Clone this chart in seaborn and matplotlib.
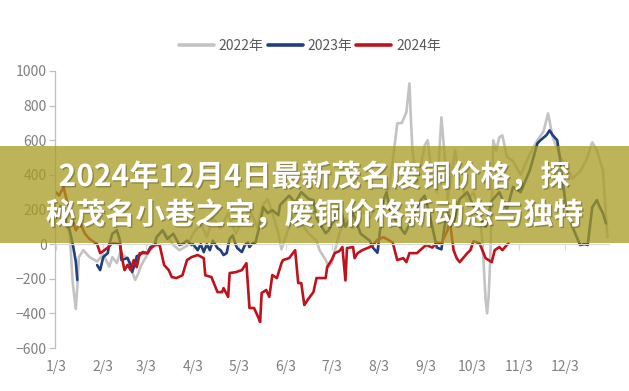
import numpy as np
import pandas as pd
import matplotlib
matplotlib.use("Agg")
import matplotlib.pyplot as plt
import matplotlib.patheffects as pe
from matplotlib.patches import Rectangle
from matplotlib.lines import Line2D
import seaborn as sns

# ---------------- data ----------------
series_names = ["2022年", "2023年", "2024年"]
series_colors = ["#C3C3C3", "#1F3F7F", "#C0121C"]

dates_2022 = ["01-03", "01-06", "01-08", "01-10", "01-12", "01-14", "01-16", "01-17", "01-18", "01-21",
              "01-25", "01-30", "02-03", "02-07", "02-09", "02-12", "02-14", "02-19", "02-22", "02-24",
              "02-26", "02-28", "03-04", "03-07", "03-10", "03-14", "03-19", "03-21", "03-25", "03-30",
              "04-03", "04-08", "04-12", "04-16", "04-21", "04-26", "05-01", "05-05", "05-10", "05-15",
              "05-19", "05-22", "05-25", "05-29", "05-31", "06-05", "06-09", "06-13", "06-18", "06-23",
              "06-25", "06-29", "07-01", "07-03", "07-05", "07-08", "07-12", "07-17", "07-22", "07-28",
              "08-02", "08-06", "08-10", "08-15", "08-18", "08-21", "08-23", "08-24", "08-25", "08-28",
              "09-02", "09-04", "09-07", "09-10", "09-13", "09-15", "09-17", "09-22", "09-25", "09-30",
              "10-04", "10-08", "10-10", "10-12", "10-13", "10-14", "10-15", "10-16", "10-17", "10-19",
              "10-21", "10-23", "10-26", "10-30", "11-04", "11-10", "11-15", "11-19", "11-22", "11-25",
              "11-30", "12-04", "12-08", "12-13", "12-17", "12-21", "12-24", "12-28", "12-31"]
values_2022 = [150, 200, 170, 100, 63, -225, -375, -248, -75, -35,
               -75, -100, -60, -130, -75, -110, -52, -80, -161, -207,
               -170, -121, -60, -20, 40, 80, 20, -5, -35, -10,
               60, 120, 40, 150, 90, 180, 60, 130, 200, 100,
               230, 260, 180, 60, -30, 100, 180, 120, 60, 20,
               -35, -90, -133, -110, -40, 60, 150, 90, 200, 150,
               220, 254, 330, 697, 700, 761, 928, 715, 540, 340,
               570, 600, 370, 300, 732, 525, 254, 542, 370, 250,
               300, 200, 0, -323, -400, -300, -100, 200, 600, 542,
               617, 628, 502, 480, 400, 520, 600, 650, 755, 620,
               502, 450, 380, 420, 484, 588, 542, 426, 40]

dates_2023 = ["01-03", "01-06", "01-08", "01-10", "01-12", "01-14", "01-16", "01-17", "01-24", "01-30",
              "02-01", "02-03", "02-06", "02-07", "02-09", "02-12", "02-14", "02-15", "02-19", "02-21",
              "02-22", "02-24", "02-25", "02-27", "03-01", "03-04", "03-06", "03-09", "03-10", "03-14",
              "03-17", "03-21", "03-25", "03-27", "03-30", "04-02", "04-03", "04-06", "04-08", "04-10",
              "04-12", "04-14", "04-16", "04-19", "04-21", "04-23", "04-25", "04-27", "04-29", "05-01",
              "05-02", "05-05", "05-07", "05-09", "05-10", "05-12", "05-14", "05-17", "05-19", "05-22",
              "05-25", "05-29", "05-30", "06-05", "06-09", "06-13", "06-18", "06-21", "06-23", "06-29",
              "07-01", "07-05", "07-08", "07-12", "07-17", "07-22", "07-28", "07-30", "08-02", "08-04",
              "08-06", "08-08", "08-10", "08-15", "08-20", "08-25", "08-30", "09-02", "09-05", "09-10",
              "09-13", "09-15", "09-17", "09-21", "09-25", "09-30", "10-04", "10-08", "10-12", "10-16",
              "10-21", "10-26", "10-30", "11-04", "11-10", "11-15", "11-17", "11-21", "11-23", "11-25",
              "11-28", "11-30", "12-04", "12-08", "12-13", "12-16", "12-18", "12-21", "12-24", "12-26",
              "12-28", "12-30"]
values_2023 = [150, 220, 180, 120, 80, 0, -100, -207, np.nan, -121,
               -150, -75, -52, 0, 60, 80, 20, -92, -80, -121,
               -161, -110, -70, -63, -46, -52, -17, -5, 40, 80,
               30, 60, -5, 0, 20, -5, 0, -35, 0, -46,
               0, -35, 20, -23, -35, -63, -52, 30, 50, -5,
               -23, -46, -5, 10, -17, 5, 10, 120, 213, 179,
               196, 167, 225, 280, 240, 300, 260, 254, 150, 63,
               80, 150, 220, 100, 180, 60, 20, -20, -50, 100,
               254, 300, 200, 120, 60, 150, 250, 280, 180, -20,
               -30, 100, 180, 120, 260, 300, 220, 150, 100, 250,
               300, 200, 330, 300, 426, 582, 600, 630, 657, 630,
               600, 484, 196, 100, -5, 0, -5, 213, 254, 213,
               179, 120]

dates_2024 = ["01-03", "01-05", "01-08", "01-10", "01-12", "01-14", "01-16", "01-19", "01-22", "01-25",
              "01-30", "02-01", "02-03", "02-06", "02-09", "02-14", "02-16", "02-17", "02-19", "02-21",
              "02-23", "02-25", "02-27", "03-04", "03-06", "03-09", "03-12", "03-15", "03-18", "03-20",
              "03-23", "03-27", "03-30", "04-02", "04-06", "04-10", "04-11", "04-15", "04-19", "04-22",
              "04-23", "04-26", "04-27", "05-01", "05-05", "05-08", "05-10", "05-13", "05-16", "05-17",
              "05-18", "05-21", "05-23", "05-25", "05-28", "05-31", "06-01", "06-05", "06-09", "06-11",
              "06-13", "06-15", "06-18", "06-21", "06-23", "06-29", "06-30", "07-03", "07-05", "07-08",
              "07-10", "07-12", "07-13", "07-17", "07-18", "07-20", "07-23", "07-28", "07-30", "08-02",
              "08-06", "08-10", "08-12", "08-15", "08-19", "08-21", "08-23", "08-28", "08-30", "09-03",
              "09-07", "09-10", "09-13", "09-17", "09-18", "09-19", "09-21", "09-23", "09-25", "09-30",
              "10-02", "10-04", "10-08", "10-12", "10-16", "10-18", "10-21", "10-23", "10-27"]
values_2024 = [300, 280, 330, 255, 200, 140, 80, 120, 60, 30,
               0, -52, -40, -20, 5, 0, -110, -150, -120, -150,
               -92, -133, -52, -52, -25, -5, -5, -121, -150, -190,
               -196, -180, -92, -75, -63, -81, -180, -190, -277, -277,
               -254, -305, -167, -162, -150, -110, -369, -369, -427, -450,
               -282, -265, -305, -179, -196, -110, -92, -81, -35, -225,
               -225, -352, -312, -277, -196, -196, -133, -90, -52, -40,
               -17, -210, -23, -17, -81, -52, -35, -17, -5, 25,
               40, 20, 10, -92, -81, -104, -52, -52, -35, -5,
               -20, 10, 5, 80, 138, 98, -35, -81, -104, -52,
               -35, 17, 5, -81, -104, -35, -17, -35, 5]

y_ticks = [-600, -400, -200, 0, 200, 400, 600, 800, 1000]
x_tick_labels = [f"{m}/3" for m in range(1, 13)]

title_lines = ["2024年12月4日最新茂名废铜价格，探",
               "秘茂名小巷之宝，废铜价格新动态与独特"]

# ---------------- build table ----------------
frames = []
for name, dts, vals in zip(series_names,
                           [dates_2022, dates_2023, dates_2024],
                           [values_2022, values_2023, values_2024]):
    d = pd.DataFrame({"date": dts, "value": np.array(vals, dtype=float)})
    d["day"] = pd.to_datetime("2023-" + d["date"]).dt.dayofyear - 1
    d["seg"] = d["value"].isna().cumsum()
    d["series"] = name
    frames.append(d.dropna())
df = pd.concat(frames, ignore_index=True)
tick_days = [pd.Timestamp(2023, m, 3).dayofyear - 1 for m in range(1, 13)]

# ---------------- plot ----------------
sns.set_theme(style="white")
plt.rcParams["font.family"] = ["Noto Sans CJK SC", "DejaVu Sans"]
plt.rcParams["axes.unicode_minus"] = True

W, H = 629, 391
fig = plt.figure(figsize=(W / 100, H / 100), dpi=100)
ax = fig.add_axes([55 / W, 43 / H, 554 / W, 277 / H])

sns.lineplot(data=df, x="day", y="value", hue="series", units="seg", estimator=None,
             hue_order=series_names, palette=series_colors, linewidth=1.9, ax=ax, legend=True)

ax.get_legend().remove()
leg_handles = [Line2D([], [], color=c, lw=2.6) for c in series_colors]
fig.legend(leg_handles, series_names, loc="center", bbox_to_anchor=(310 / W, 1 - 46 / H),
           ncol=3, frameon=False, fontsize=10, handlelength=2.5, handletextpad=0.35,
           columnspacing=0.3, labelcolor="#595959")

ax.set_xlim(1.35, 365)
ax.set_ylim(-600, 1000)
ax.set_yticks(y_ticks)
ax.set_yticklabels([str(v).replace("-", "\u2212") for v in y_ticks])
ax.set_xticks(tick_days)
ax.set_xticklabels(x_tick_labels)
ax.set_xlabel("")
ax.set_ylabel("")
ax.grid(False)

for s in ["top", "right"]:
    ax.spines[s].set_visible(False)
ax.spines["left"].set_color("#BFBFBF")
ax.spines["left"].set_linewidth(0.9)
ax.spines["bottom"].set_position(("data", 0))
ax.spines["bottom"].set_color("#D9D9D9")
ax.spines["bottom"].set_linewidth(0.9)

ax.tick_params(axis="y", direction="out", length=4, width=0.9, color="#BFBFBF",
               labelcolor="#808080", labelsize=10, pad=2, left=True)
ax.tick_params(axis="x", direction="out", length=4.5, width=0.9, color="#D9D9D9",
               labelcolor="#808080", labelsize=10, pad=79, bottom=True)

# ---------------- banner overlay ----------------
fig.add_artist(Rectangle((0, 148 / H), 1, 97 / H, transform=fig.transFigure,
                         facecolor=(167 / 255, 155 / 255, 35 / 255), alpha=0.75,
                         edgecolor="none", zorder=5))
shadow = [pe.SimplePatchShadow(offset=(1, -1), shadow_rgbFace="black", alpha=0.25), pe.Normal()]
fig.text(0.5, 1 - 177 / H, title_lines[0], ha="center", va="center", fontsize=21.5,
         fontweight="bold", color="white", zorder=6, path_effects=shadow)
fig.text(0.5, 1 - 215 / H, title_lines[1], ha="center", va="center", fontsize=21.5,
         fontweight="bold", color="white", zorder=6, path_effects=shadow)

fig.savefig("out.png", dpi=100)
